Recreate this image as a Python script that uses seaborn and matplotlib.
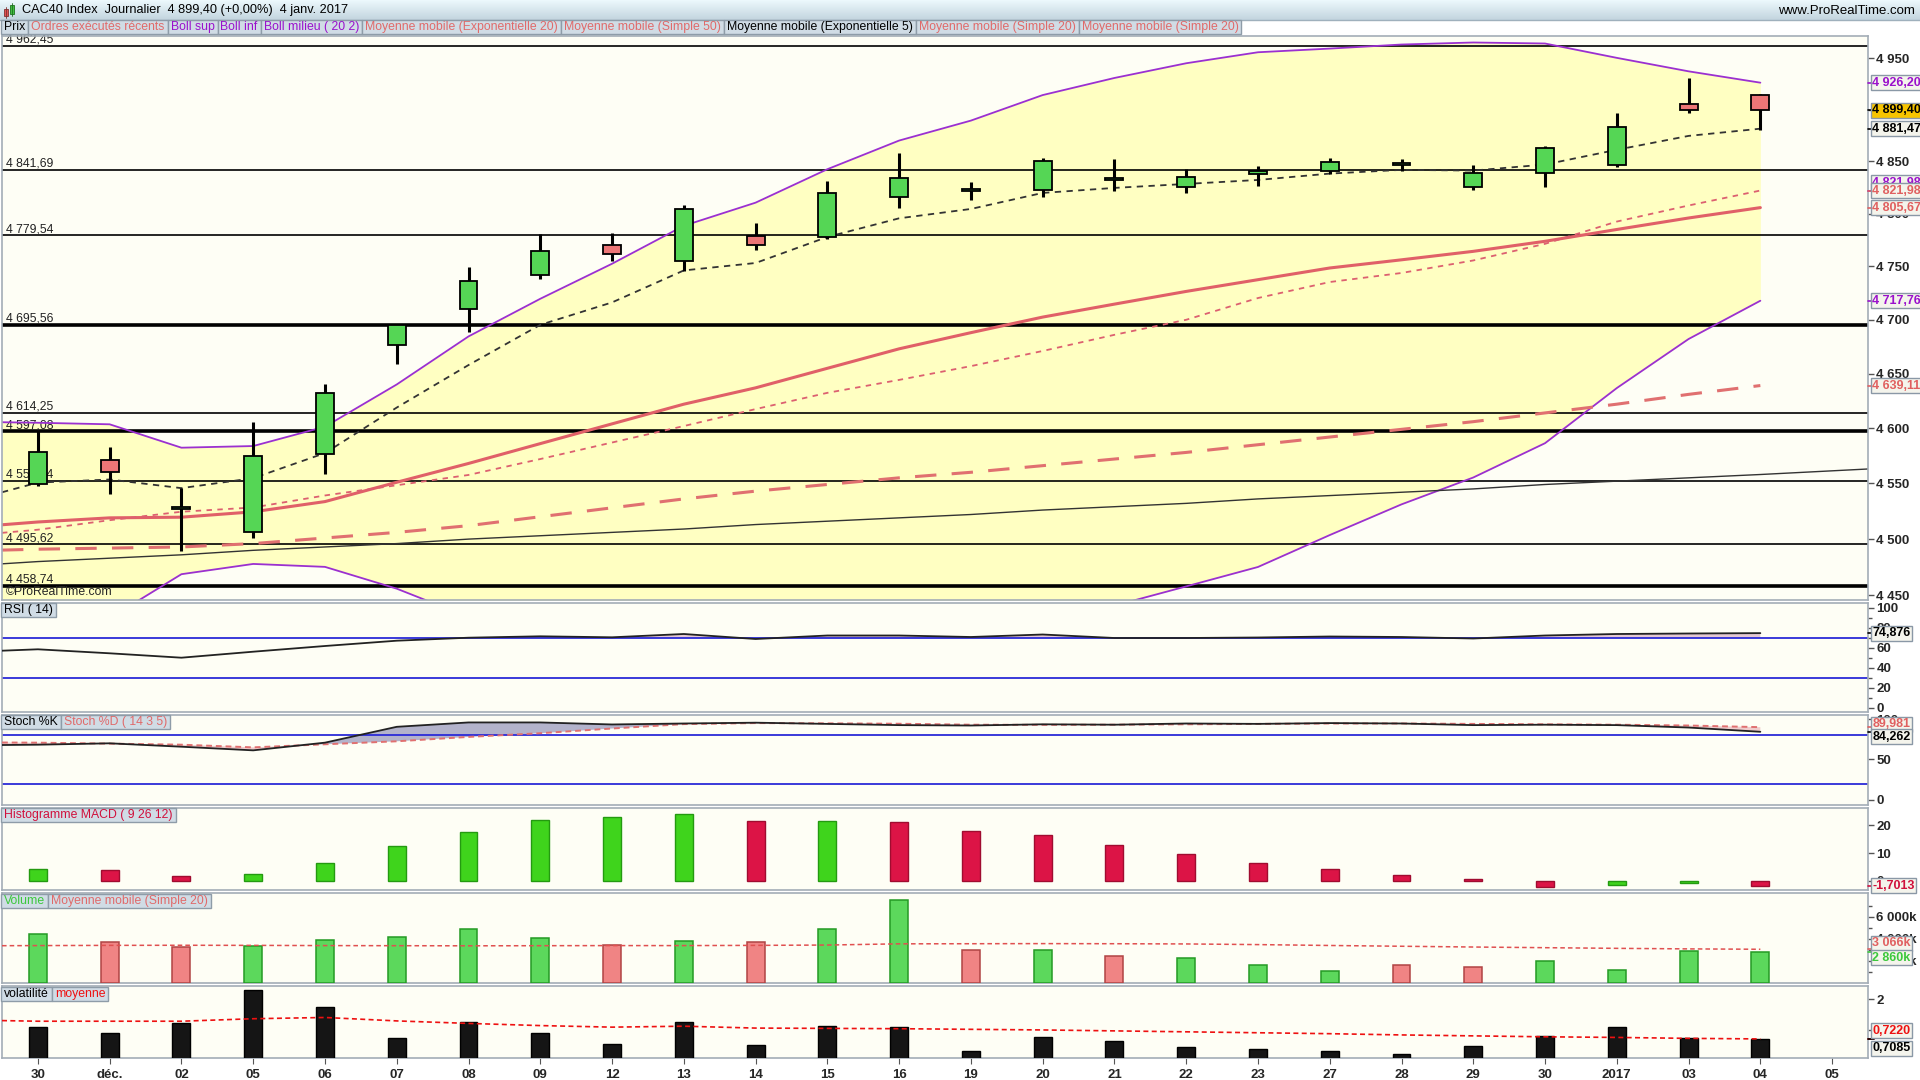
import numpy as np
import pandas as pd
import seaborn as sns
import matplotlib.pyplot as plt
from matplotlib.patches import Rectangle
from matplotlib.transforms import blended_transform_factory
from matplotlib.ticker import NullLocator

# ---- data (CAC40, daily) ----
dates = ['30', 'déc.', '02', '05', '06', '07', '08', '09', '12', '13', '14', '15', '16',
         '19', '20', '21', '22', '23', '27', '28', '29', '30', '2017', '03', '04', '05']

opens = [4549.3, 4571.0, 4527.2, 4506.1, 4576.4, 4676.5, 4710.0, 4741.9, 4770.2, 4755.1, 4779.1, 4777.8, 4815.8,
         4821.6, 4822.1, 4832.1, 4825.4, 4837.9, 4840.7, 4846.5, 4825.4, 4838.8, 4846.1, 4905.5, 4914.3]
highs = [4597.9, 4583.1, 4545.6, 4605.6, 4640.7, 4696.5, 4749.7, 4780.6, 4781.6, 4808.2, 4791.0, 4831.1, 4858.1,
         4830.5, 4853.2, 4852.6, 4842.7, 4845.8, 4853.5, 4852.6, 4846.5, 4864.8, 4897.1, 4931.2, 4915.5]
lows = [4547.7, 4540.8, 4489.7, 4501.3, 4558.8, 4658.9, 4688.2, 4737.7, 4754.7, 4745.3, 4765.1, 4776.0, 4804.9,
        4812.6, 4815.4, 4821.2, 4819.3, 4826.0, 4837.5, 4840.4, 4822.1, 4825.0, 4844.2, 4896.4, 4879.9]
closes = [4578.2, 4560.1, 4528.4, 4574.6, 4632.1, 4695.1, 4736.2, 4764.5, 4761.7, 4804.4, 4769.8, 4819.7, 4834.0,
          4823.5, 4850.4, 4834.0, 4835.0, 4840.7, 4849.4, 4848.4, 4838.8, 4862.9, 4883.2, 4899.3, 4899.4]

# indicator lines: first value is the reading at the left edge of the chart, then one per session
ema5 = [4542.0, 4550.7, 4553.5, 4545.7, 4554.7, 4577.4, 4618.9, 4658.0, 4695.3, 4716.2, 4746.2, 4753.2, 4777.8,
        4795.5, 4804.4, 4819.7, 4824.5, 4828.3, 4832.1, 4838.2, 4841.8, 4841.1, 4846.9, 4861.1, 4874.5, 4881.47]
boll_up = [4605.5, 4605.0, 4603.6, 4582.3, 4583.8, 4601.4, 4640.1, 4684.5, 4719.6, 4752.5, 4788.4, 4810.4, 4842.4,
           4870.0, 4889.3, 4914.1, 4930.8, 4945.2, 4956.0, 4959.6, 4963.6, 4965.6, 4964.6, 4950.5, 4937.3, 4926.20]
boll_low = [4405.0, 4412.0, 4430.0, 4468.8, 4477.9, 4475.3, 4456.0, 4431.0, 4424.0, 4421.0, 4416.0, 4425.0, 4422.0,
            4419.0, 4425.0, 4428.0, 4441.0, 4458.0, 4475.2, 4503.6, 4531.1, 4555.3, 4586.4, 4636.8, 4682.1, 4717.76]
sma20 = [4505.6, 4508.4, 4516.9, 4524.5, 4528.3, 4539.1, 4548.3, 4557.6, 4572.0, 4587.0, 4602.0, 4617.5, 4632.4,
         4644.3, 4657.0, 4671.0, 4686.0, 4700.0, 4720.3, 4735.3, 4743.8, 4755.6, 4771.3, 4792.4, 4807.7, 4821.98]
ema20 = [4512.8, 4515.3, 4519.0, 4519.6, 4524.4, 4533.6, 4551.0, 4568.0, 4586.0, 4604.0, 4622.0, 4637.0, 4655.0,
         4673.0, 4688.0, 4702.5, 4714.6, 4726.5, 4737.5, 4748.5, 4756.2, 4764.2, 4773.7, 4784.9, 4795.8, 4805.67]
sma50 = [4490.2, 4491.0, 4492.0, 4493.0, 4496.0, 4501.0, 4506.0, 4512.0, 4520.0, 4528.0, 4536.0, 4543.0, 4549.0,
         4555.0, 4560.0, 4566.0, 4572.0, 4578.0, 4585.0, 4592.0, 4599.0, 4606.0, 4614.0, 4622.0, 4631.0, 4639.11]
# long average: left edge, 25 sessions, right edge
long_ma = [4478.0, 4480.0, 4483.0, 4486.0, 4490.0, 4493.0, 4496.0, 4500.0, 4503.0, 4506.0, 4509.0, 4513.0, 4516.0,
           4519.0, 4522.0, 4526.0, 4529.0, 4532.0, 4536.0, 4539.0, 4542.0, 4545.0, 4549.0, 4552.0, 4555.0, 4558.0,
           4563.0]

levels = [4962.45, 4841.69, 4779.54, 4695.56, 4614.25, 4597.08, 4552.24, 4495.62, 4458.74]
level_widths = [1.2, 1.2, 1.2, 2.6, 1.2, 2.6, 1.2, 1.2, 2.6]

rsi = [57.3, 58.7, 54.7, 50.3, 56.3, 62.0, 67.3, 70.3, 71.7, 70.7, 74.0, 69.0, 72.5,
       72.5, 71.0, 73.5, 70.0, 70.0, 70.5, 71.5, 71.0, 69.5, 72.5, 74.0, 74.5, 74.876]
stoch_k = [67.9, 68.3, 70.0, 65.8, 61.3, 70.8, 90.4, 95.8, 95.8, 93.3, 94.5, 95.5, 94.0,
           92.5, 92.0, 93.5, 93.0, 94.5, 94.0, 95.0, 94.5, 92.5, 93.0, 92.5, 89.5, 84.262]
stoch_d = [71.0, 70.8, 69.6, 68.3, 65.0, 68.8, 72.5, 77.9, 82.5, 88.3, 93.75, 95.0, 94.7,
           94.2, 93.0, 92.8, 93.0, 93.5, 94.0, 94.5, 94.5, 94.0, 93.5, 93.0, 92.0, 89.981]
macd_hist = [4.3, 3.85, 1.7, 2.5, 6.4, 12.5, 17.7, 22.0, 22.9, 24.2, 21.6, 21.7, 21.2,
             18.1, 16.4, 12.9, 9.9, 6.4, 4.3, 2.1, 0.6, -2.0, -1.6, -0.9, -1.7013]
volume_k = [4455, 3727, 3273, 3364, 3909, 4182, 4909, 4091, 3455, 3818, 3727, 4873, 7545,
            2982, 2982, 2427, 2309, 1636, 1091, 1636, 1418, 1982, 1200, 2950, 2860]
volume_ma = [3390, 3400, 3420, 3430, 3420, 3400, 3390, 3380, 3390, 3400, 3400, 3420, 3450,
             3560, 3570, 3580, 3570, 3550, 3490, 3410, 3340, 3270, 3210, 3150, 3100, 3066]
volat = [1.10, 0.91, 1.23, 2.29, 1.74, 0.75, 1.26, 0.91, 0.56, 1.26, 0.53, 1.13, 1.09,
         0.35, 0.78, 0.66, 0.46, 0.39, 0.35, 0.23, 0.51, 0.82, 1.09, 0.74, 0.7085]
volat_ma = [1.31, 1.29, 1.29, 1.29, 1.37, 1.41, 1.30, 1.22, 1.15, 1.10, 1.13, 1.07, 1.06,
            1.05, 1.03, 1.01, 0.98, 0.95, 0.92, 0.89, 0.85, 0.82, 0.79, 0.77, 0.74, 0.722]

# ---- setup ----
sns.set_style("white")
plt.rcParams['font.family'] = ['Liberation Sans Narrow', 'Liberation Sans', 'DejaVu Sans']
W, H = 1920, 1080
fig = plt.figure(figsize=(W / 100, H / 100), dpi=100, facecolor='white')

n = len(closes)
idx = np.arange(n)
all_idx = np.arange(len(dates))
lx = np.r_[-0.5, idx]            # left edge + sessions
lx_full = np.r_[-0.5, idx, 25.5]  # left edge + sessions + right edge
o, h, l, c = map(np.array, (opens, highs, lows, closes))
up = c >= o

PANEL_BG = '#fefef5'
EDGE = '#a3adb6'
GREEN, RED = '#55d655', '#ec7676'


def box(top, bottom, left=2, right=1868):
    return fig.add_axes([left / W, 1 - bottom / H, (right - left) / W, (bottom - top) / H])


def style(ax, ylim, ticks, labels, minor=None):
    ax.set_facecolor(PANEL_BG)
    ax.set_xlim(-0.5, 25.5)
    ax.set_ylim(*ylim)
    for s in ax.spines.values():
        s.set_color(EDGE)
        s.set_linewidth(1.2)
    ax.yaxis.tick_right()
    ax.set_yticks(ticks, labels=labels, fontweight='bold', fontsize=9.5)
    ax.yaxis.set_minor_locator(NullLocator())
    if minor is not None:
        ax.set_yticks(minor, minor=True)
    ax.tick_params(axis='y', which='both', direction='out', length=4, width=1, color='#555555', pad=2, right=True)
    ax.tick_params(axis='y', which='minor', length=3)
    ax.set_xticks([])
    ax.set_xlabel('')
    ax.set_ylabel('')


def fmt(v, dec=2):
    return f"{v:,.{dec}f}".replace(",", " ").replace(".", ",")


def value_tag(ax, val, text, color, dy=0, fc='#f4f4ec'):
    # dy in figure pixels (positive = up)
    tr = blended_transform_factory(ax.transAxes, ax.transData)
    ax.plot([1.0, 1.003], [val, val], color=color, lw=1.2, transform=tr, clip_on=False, zorder=20)
    ax.annotate(text, xy=(1.0, val), xycoords=tr, xytext=(3.2, dy * 0.72), textcoords='offset points',
                va='center', ha='left', fontsize=9, fontweight='bold', color=color, zorder=21,
                annotation_clip=False,
                bbox=dict(boxstyle='square,pad=0.12', fc=fc, ec='#8a98a6', lw=1))


def tags(x0, y0, hgt, items, fs=8.8):
    renderer = fig.canvas.get_renderer()
    x = x0
    for text, color in items:
        t = fig.text((x + 3) / W, 1 - (y0 + hgt / 2) / H, text, color=color, fontsize=fs,
                     va='center', ha='left', zorder=31)
        wdt = t.get_window_extent(renderer).width + 6
        fig.add_artist(Rectangle((x / W, 1 - (y0 + hgt) / H), wdt / W, hgt / H, transform=fig.transFigure,
                                 fc='#d0dce5', ec='#8e9ca8', lw=1, zorder=30))
        x += wdt


# ---- header ----
ax_h = fig.add_axes([0, 1 - 20 / H, 1, 20 / H])
grad = np.linspace(0, 1, 20).reshape(-1, 1)
ax_h.imshow(grad, aspect='auto', cmap=sns.blend_palette(['#ecf8fc', '#c3d5df'], as_cmap=True),
            extent=(0, W, 20, 0))
ax_h.set_xlim(0, W)
ax_h.set_ylim(20, 0)
ax_h.axis('off')
ax_h.add_patch(Rectangle((4, 9), 4, 7, fc='#e05050', ec='#803030', lw=0.6))
ax_h.add_patch(Rectangle((10, 5), 4, 9, fc='#40c040', ec='#207020', lw=0.6))
ax_h.plot([6, 6], [7, 18], color='#803030', lw=0.6)
ax_h.plot([12, 12], [3, 16], color='#207020', lw=0.6)
ax_h.text(22, 10.5, "CAC40 Index  Journalier  4 899,40 (+0,00%)  4 janv. 2017",
          va='center', ha='left', fontsize=9.2, color='black')
ax_h.text(1915, 11, "www.ProRealTime.com", va='center', ha='right', fontsize=9.5, color='black')
fig.add_artist(plt.Line2D([0, 1], [1 - 20 / H, 1 - 20 / H], transform=fig.transFigure, color='#9fb0bc', lw=1))

tags(1, 20, 14, [("Prix", 'black'), ("Ordres exécutés récents", '#e06a6a'), ("Boll sup", '#9a11cc'),
                 ("Boll inf", '#9a11cc'), ("Boll milieu ( 20 2)", '#9a11cc'),
                 ("Moyenne mobile (Exponentielle 20)", '#e06a6a'), ("Moyenne mobile (Simple 50)", '#e06a6a'),
                 ("Moyenne mobile (Exponentielle 5)", 'black'), ("Moyenne mobile (Simple 20)", '#e06a6a'),
                 ("Moyenne mobile (Simple 20)", '#e06a6a')])

# ---- price panel ----
ax = box(36, 600)
ax.set_yscale('log')
price_ticks = [4450, 4500, 4550, 4600, 4650, 4700, 4750, 4800, 4850, 4900, 4950]
style(ax, (4446.0, 4972.0), price_ticks, [fmt(v, 0) for v in price_ticks])

ax.fill_between(lx, boll_low, boll_up, color='#ffffc2', lw=0, zorder=0.5)
sns.lineplot(x=lx, y=boll_up, ax=ax, color='#9b30d0', lw=1.3, zorder=2)
sns.lineplot(x=lx, y=boll_low, ax=ax, color='#9b30d0', lw=1.3, zorder=2)
for lv, lw in zip(levels, level_widths):
    ax.axhline(lv, color='black', lw=lw, zorder=1)
    ax.text(0.002, lv, fmt(lv), transform=blended_transform_factory(ax.transAxes, ax.transData),
            va='bottom', ha='left', fontsize=8.8, color='#222222', zorder=1.5)
sns.lineplot(x=lx_full, y=long_ma, ax=ax, color='#333333', lw=1.0, zorder=2)
sns.lineplot(x=lx, y=sma50, ax=ax, color='#e07070', lw=2.2, linestyle=(0, (7, 5)), zorder=2)
sns.lineplot(x=lx, y=ema20, ax=ax, color='#e06068', lw=2.2, zorder=2)
sns.lineplot(x=lx, y=sma20, ax=ax, color='#dc6070', lw=1.3, linestyle=(0, (3, 3)), zorder=2)
sns.lineplot(x=lx, y=ema5, ax=ax, color='#333333', lw=1.3, linestyle=(0, (3.5, 3)), zorder=2.5)

ax.vlines(idx, l, h, color='black', lw=2.2, zorder=3)
ax.bar(idx, np.abs(c - o), bottom=np.minimum(o, c), width=0.25,
       color=np.where(up, GREEN, RED), edgecolor='black', lw=1.3, zorder=4)
ax.set_xticks([])
ax.text(0.002, 0.004, "©ProRealTime.com", transform=ax.transAxes, fontsize=8.8, va='bottom', ha='left')

value_tag(ax, 4926.20, fmt(4926.20), '#9a11cc')
value_tag(ax, 4899.40, fmt(4899.40), 'black', fc='#f7c400')
value_tag(ax, 4881.47, fmt(4881.47), 'black')
value_tag(ax, 4821.98, fmt(4821.98), '#9a11cc', dy=8)
value_tag(ax, 4821.98, fmt(4821.98), '#e06060')
value_tag(ax, 4805.67, fmt(4805.67), '#e06060')
value_tag(ax, 4717.76, fmt(4717.76), '#9a11cc')
value_tag(ax, 4639.11, fmt(4639.11), '#e06060')

# ---- RSI ----
ax_r = box(603, 712)
style(ax_r, (-4, 105), [0, 20, 40, 60, 80, 100], ['0', '20', '40', '60', '80', '100'],
      minor=[10, 30, 50, 70, 90])
r = np.array(rsi)
ax_r.fill_between(lx, r, 70, where=r > 70, interpolate=True, color='#e4c8d2', lw=0, zorder=1)
ax_r.axhline(70, color='#2b2bd8', lw=1.3, zorder=2)
ax_r.axhline(30, color='#2b2bd8', lw=1.3, zorder=2)
sns.lineplot(x=lx, y=rsi, ax=ax_r, color='#222222', lw=1.3, zorder=3)
ax_r.set_xticks([])
value_tag(ax_r, 74.876, "74,876", 'black')

# ---- Stochastic ----
ax_s = box(715, 805)
style(ax_s, (-6.25, 105), [0, 50, 100], ['0', '50', '100'])
k, d = np.array(stoch_k), np.array(stoch_d)
ax_s.fill_between(lx, k, d, where=k >= d, interpolate=True, color='#b3b3cb', lw=0, zorder=1)
ax_s.fill_between(lx, k, d, where=k < d, interpolate=True, color='#f0cccc', lw=0, zorder=1)
ax_s.axhline(80, color='#2b2bd8', lw=1.3, zorder=2)
ax_s.axhline(20, color='#2b2bd8', lw=1.3, zorder=2)
sns.lineplot(x=lx, y=stoch_d, ax=ax_s, color='#e07070', lw=1.4, linestyle=(0, (3, 2)), zorder=3)
sns.lineplot(x=lx, y=stoch_k, ax=ax_s, color='#222222', lw=1.3, zorder=3)
ax_s.set_xticks([])
value_tag(ax_s, 89.981, "89,981", '#e06060', dy=3)
value_tag(ax_s, 84.262, "84,262", 'black', dy=-5)

# ---- MACD histogram ----
ax_m = box(808, 890)
style(ax_m, (-3.25, 26.3), [0, 10, 20], ['0', '10', '20'])
mh = np.array(macd_hist)
rising = np.concatenate([[True], np.diff(mh) >= 0])
ax_m.bar(idx, mh, width=0.25, color=np.where(rising, '#3fd41c', '#dc1446'),
         edgecolor=np.where(rising, '#249a10', '#a00c30'), lw=1, zorder=3)
ax_m.set_xticks([])
value_tag(ax_m, -1.7013, "-1,7013", '#d0103c')

# ---- Volume ----
ax_v = box(893, 983)
style(ax_v, (0, 8180), [2000, 4000, 6000], ['2 000k', '4 000k', '6 000k'], minor=[1000, 3000, 5000, 7000])
vol_up = np.concatenate([[True], np.diff(c) >= 0])
ax_v.bar(idx, volume_k, width=0.25, color=np.where(vol_up, '#5cd85c', '#f08484'),
         edgecolor=np.where(vol_up, '#249a24', '#b04444'), lw=1.1, zorder=3)
sns.lineplot(x=lx, y=volume_ma, ax=ax_v, color='#e05050', lw=1.1, linestyle=(0, (3, 2)), zorder=4)
ax_v.set_xticks([])
value_tag(ax_v, 3066, "3 066k", '#e06060', dy=6)
value_tag(ax_v, 2860, "2 860k", '#3cc83c', dy=-6)

# ---- Volatility ----
ax_t = box(986, 1058)
style(ax_t, (0.11, 2.42), [1, 2], ['1', '2'])
ax_t.bar(idx, volat, width=0.25, color='#151515', edgecolor='black', lw=1, zorder=3)
sns.lineplot(x=lx, y=volat_ma, ax=ax_t, color='#ee1111', lw=1.2, linestyle=(0, (3, 2)), zorder=4)
ax_t.set_xticks(all_idx, labels=dates, fontweight='bold', fontsize=9.5)
ax_t.tick_params(axis='x', direction='out', length=4, color='#555555', pad=4, bottom=True)
ax_t.set_xlabel('')
value_tag(ax_t, 0.7220, "0,7220", '#ee1111', dy=8)
value_tag(ax_t, 0.7085, "0,7085", 'black', dy=-9)

# panel tag labels
tags(1, 603, 14, [("RSI ( 14)", 'black')])
tags(1, 715, 14, [("Stoch %K", 'black'), ("Stoch %D ( 14 3 5)", '#e06a6a')])
tags(1, 808, 14, [("Histogramme MACD ( 9 26 12)", '#d0103c')])
tags(1, 894, 14, [("Volume", '#3cc83c'), ("Moyenne mobile (Simple 20)", '#e06a6a')])
tags(1, 987, 14, [("volatilité", 'black'), ("moyenne", '#ee1111')])

fig.savefig("out.png", dpi=100, facecolor='white')
